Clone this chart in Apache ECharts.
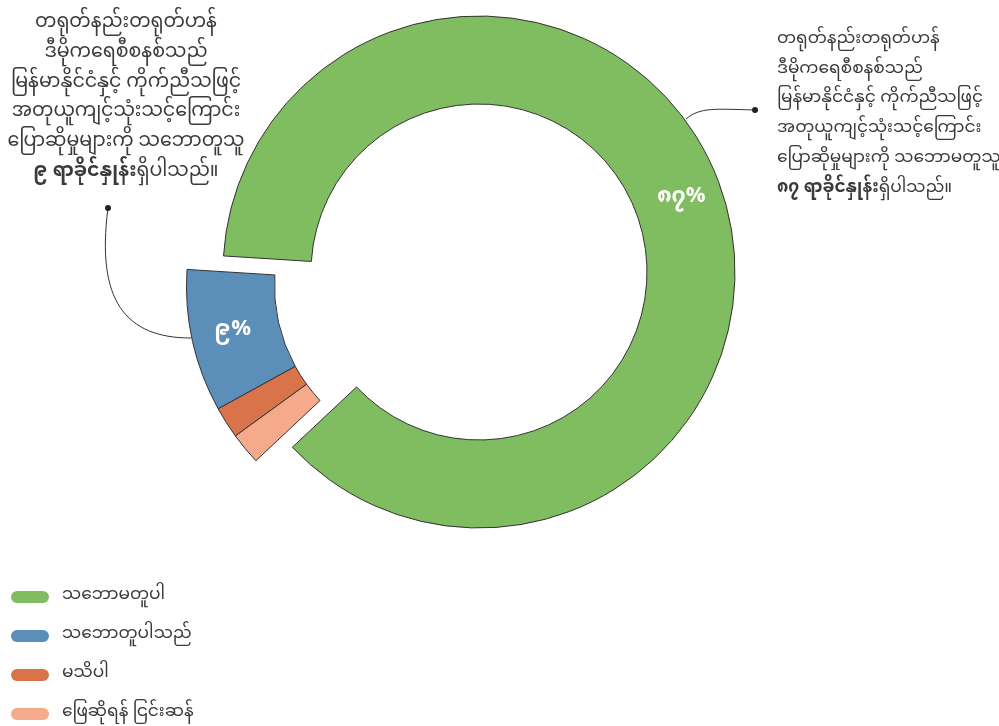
<!DOCTYPE html>
<html><head><meta charset="utf-8">
<script src="https://cdn.jsdelivr.net/npm/echarts@6/dist/echarts.min.js"></script>
<style>html,body{margin:0;padding:0;background:#fff}#c{width:999px;height:726px}</style>
</head><body><div id="c"></div>
<script>
const categories = ['သဘောမတူပါ', 'သဘောတူပါသည်', 'မသိပါ', 'ဖြေဆိုရန် ငြင်းဆန်'];
const values = [87, 9, 2, 2];
const valueLabels = ['၈၇%', '၉%', '', ''];
const colors = ['#80bc60', '#5c8eba', '#d9734a', '#f6aa8c'];
const noteRight = ['တရုတ်နည်းတရုတ်ဟန်', 'ဒီမိုကရေစီစနစ်သည်', 'မြန်မာနိုင်ငံနှင့် ကိုက်ညီသဖြင့်', 'အတုယူကျင့်သုံးသင့်ကြောင်း', 'ပြောဆိုမှုများကို သဘောမတူသူ', '{b|၈၇ ရာခိုင်နှုန်း}ရှိပါသည်။'];
const noteLeft = ['တရုတ်နည်းတရုတ်ဟန်', 'ဒီမိုကရေစီစနစ်သည်', 'မြန်မာနိုင်ငံနှင့် ကိုက်ညီသဖြင့်', 'အတုယူကျင့်သုံးသင့်ကြောင်း', 'ပြောဆိုမှုများကို သဘောတူသူ', '{b|၉ ရာခိုင်နှုန်း}ရှိပါသည်။'];

const FONT = '"Noto Sans Myanmar", "Padauk", "Myanmar Text", "Noto Sans", sans-serif';
const chart = echarts.init(document.getElementById('c'), null, {renderer: 'canvas'});

const ghost = {itemStyle: {color: 'rgba(0,0,0,0)', borderWidth: 0}, label: {show: false}, emphasis: {disabled: true}, tooltip: {show: false}};
function item(i) {
  return {name: categories[i], value: values[i], itemStyle: {color: colors[i]},
    label: {show: !!valueLabels[i], formatter: valueLabels[i]}};
}
const restSum = values.slice(1).reduce((a, b) => a + b, 0);
const common = {
  type: 'pie', radius: [168, 256], startAngle: 223.2, clockwise: false,
  avoidLabelOverlap: false, silent: true,
  itemStyle: {borderColor: '#333', borderWidth: 1},
  label: {position: 'inside', color: '#fff', fontSize: 22, fontWeight: 'bold', fontFamily: FONT},
  labelLine: {show: false}
};
const seriesMain = Object.assign({}, common, {
  center: [479, 272],
  data: [item(0), Object.assign({name: '_rest', value: restSum}, ghost)]
});
const seriesExploded = Object.assign({}, common, {
  center: [442.5, 285.5],
  data: [Object.assign({name: '_main', value: values[0]}, ghost)].concat([1, 2, 3].map(item))
});

function noteStyle(size, lh) {
  return {fontSize: size, fill: '#3a3a3a', fontFamily: FONT, lineHeight: lh,
    rich: {b: {fontSize: size, fontWeight: 'bold', fill: '#3a3a3a', fontFamily: FONT, lineHeight: lh}}};
}

chart.setOption({
  backgroundColor: '#ffffff',
  animation: false,
  legend: {
    orient: 'vertical', left: 11, top: 587, height: 200, padding: 0, data: categories, selectedMode: false,
    icon: 'path://M6,0 L32,0 A6,6 0 0 1 32,12 L6,12 A6,6 0 0 1 6,0 Z',
    itemWidth: 38, itemHeight: 12, itemGap: 19,
    itemStyle: {borderWidth: 0},
    textStyle: {fontSize: 17, color: '#3a3a3a', lineHeight: 20, fontFamily: FONT, padding: [0, 0, 0, 8]}
  },
  series: [seriesMain, seriesExploded],
  graphic: [
    {type: 'text', x: 777, y: 26, style: Object.assign({text: noteRight.join('\n'), textAlign: 'left', textVerticalAlign: 'top'}, noteStyle(17, 29.8))},
    {type: 'text', x: 126, y: 10, style: Object.assign({text: noteLeft.join('\n'), textAlign: 'center', textVerticalAlign: 'top'}, noteStyle(19, 29.8))},
    {type: 'bezierCurve', shape: {x1: 686, y1: 119, cpx1: 700, cpy1: 107, cpx2: 715, cpy2: 109, x2: 755, y2: 110}, style: {stroke: '#333', lineWidth: 1, fill: null}},
    {type: 'circle', shape: {cx: 755, cy: 110, r: 3}, style: {fill: '#222'}},
    {type: 'bezierCurve', shape: {x1: 108, y1: 208, cpx1: 96, cpy1: 300, cpx2: 125, cpy2: 338, x2: 191, y2: 338}, style: {stroke: '#333', lineWidth: 1, fill: null}},
    {type: 'circle', shape: {cx: 108, cy: 208, r: 3}, style: {fill: '#222'}}
  ]
});
</script></body></html>
